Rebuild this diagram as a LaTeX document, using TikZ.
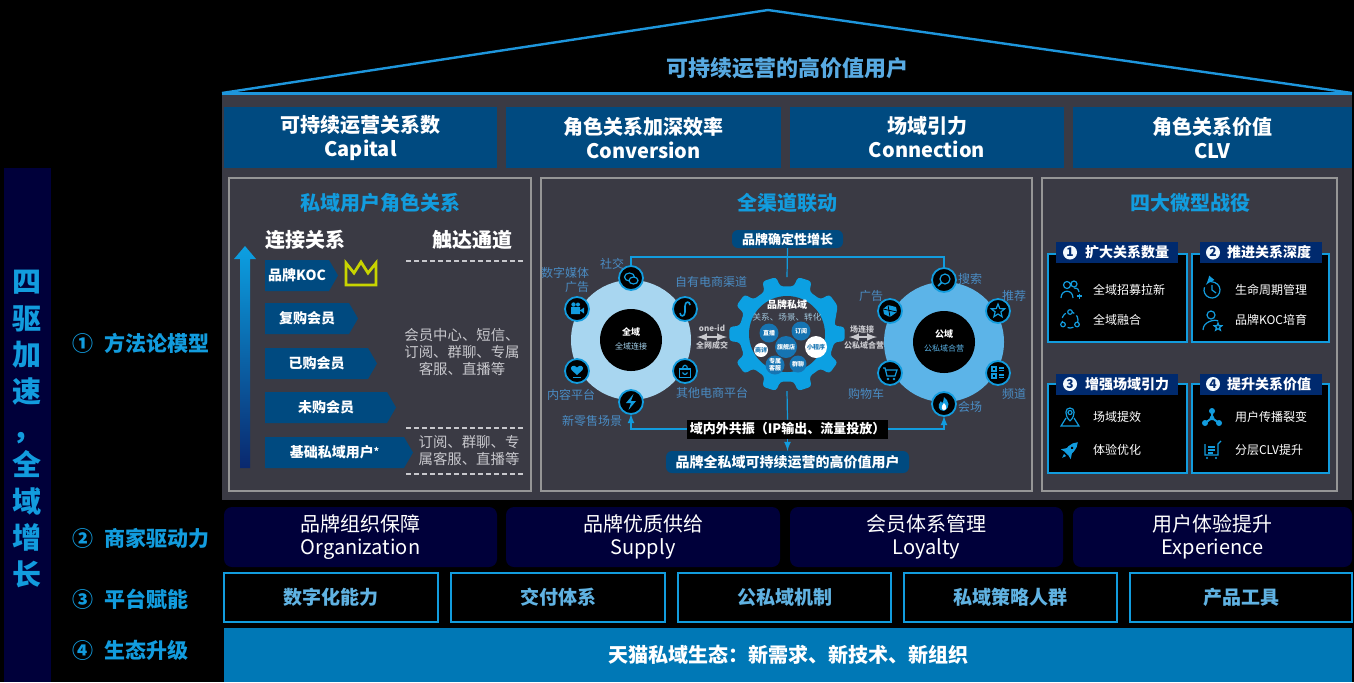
\documentclass[tikz,border=0pt]{standalone}
\usepackage{fontspec}
\setmainfont{Noto Sans CJK SC}
\usetikzlibrary{arrows}
\tikzset{>=latex}

\definecolor{band}{RGB}{58,58,68}
\definecolor{hdrblue}{RGB}{0,74,128}
\definecolor{navy}{RGB}{0,0,58}
\definecolor{accent}{RGB}{18,156,222}
\definecolor{roofblue}{RGB}{30,150,220}
\definecolor{rooftext}{RGB}{88,170,226}
\definecolor{ecobar}{RGB}{0,120,182}
\definecolor{rowtext}{RGB}{96,178,226}
\definecolor{frame}{RGB}{150,150,150}
\definecolor{softgray}{RGB}{200,200,205}
\definecolor{lblblue}{RGB}{74,140,196}
\definecolor{paleblue}{RGB}{168,214,240}
\definecolor{midblue}{RGB}{92,180,232}
\definecolor{gearblue}{RGB}{12,160,226}
\definecolor{dotblue}{RGB}{22,116,178}
\definecolor{tabnavy}{RGB}{0,42,110}
\definecolor{crown}{RGB}{200,212,0}
\definecolor{arrowbot}{RGB}{10,40,110}

\begin{document}
\begin{tikzpicture}[x=0.5pt,y=-0.5pt]
  \tikzset{
    every node/.style={inner sep=0pt, outer sep=0pt},
    hbox/.style={fill=hdrblue, text=white, align=center, minimum height=30.5pt,
      font=\fontsize{10pt}{12pt}\selectfont\bfseries},
    drv/.style={fill=navy, rounded corners=4pt, text=white, align=center,
      minimum height=30pt, font=\fontsize{10pt}{11.5pt}\selectfont},
    plat/.style={draw=accent, line width=1pt, fill=black, text=rowtext,
      minimum height=24.5pt, font=\fontsize{9.5pt}{9.5pt}\selectfont\bfseries},
    lvl/.style={anchor=west, text=accent, font=\fontsize{10.5pt}{10.5pt}\selectfont\bfseries},
    ptitle/.style={text=accent, font=\fontsize{10pt}{10pt}\selectfont\bfseries},
    colhead/.style={text=white, font=\fontsize{10pt}{10pt}\selectfont\bfseries},
    chev/.style={text=white, font=\fontsize{7pt}{7pt}\selectfont\bfseries},
    note/.style={text=softgray, align=center, font=\fontsize{7.2pt}{8.5pt}\selectfont},
    lbl/.style={text=lblblue, font=\fontsize{6pt}{7pt}\selectfont},
    ico/.style={circle, draw=accent, line width=0.9pt, fill=black, minimum size=12pt},
    dot/.style={circle, fill=dotblue, text=white, align=center, font=\fontsize{3pt}{3.4pt}\selectfont\bfseries},
    wdot/.style={circle, fill=white, text=dotblue, font=\fontsize{3pt}{3pt}\selectfont\bfseries},
    tiny/.style={text=softgray, font=\fontsize{4pt}{4pt}\selectfont\bfseries},
    link/.style={accent, line width=0.6pt},
    tab/.style={fill=tabnavy, minimum width=61pt, minimum height=10.5pt},
    num/.style={circle, fill=white!85!paleblue, text=tabnavy, minimum size=7pt,
      font=\fontsize{6pt}{6pt}\selectfont\bfseries},
    tabtext/.style={anchor=west, text=white, font=\fontsize{7pt}{7pt}\selectfont\bfseries},
    item/.style={anchor=west, text=white, font=\fontsize{6pt}{6pt}\selectfont},
    glyph/.style={accent, line width=0.6pt}
  }
  \useasboundingbox (0,0) rectangle (1354,682);
  \fill[black] (0,0) rectangle (1354,682);

  % roof
  \draw[roofblue, line width=1.2pt] (222,93) -- (768,10) -- (1352,93);
  \draw[roofblue, line width=1.5pt] (222,93) -- (1352,93);
  \node[text=rooftext, font=\fontsize{11pt}{11pt}\selectfont\bfseries] (roof) at (787,68) {可持续运营的高价值用户};
  \fill[band] (222,95) rectangle (1352,500);

  % left column
  \fill[navy] (4,168) rectangle (51,682);
  \node[text=accent, align=center, font=\fontsize{14.5pt}{18.3pt}\selectfont\bfseries] (slogan) at (27,429)
    {四\\驱\\加\\速\\，\\全\\域\\增\\长};
  \node[lvl] (lv1) at (72,343) {①\hspace{6pt}方法论模型};
  \node[lvl] (lv2) at (72,538) {②\hspace{6pt}商家驱动力};
  \node[lvl] (lv3) at (72,599) {③\hspace{6pt}平台赋能};
  \node[lvl] (lv4) at (72,650) {④\hspace{6pt}生态升级};

  % top row
  \node[hbox, minimum width=136.5pt] (cap) at (360.5,137.5) {可持续运营关系数\\Capital};
  \node[hbox, minimum width=137.5pt] (conv) at (643.5,137.5) {角色关系加深效率\\Conversion};
  \node[hbox, minimum width=137pt] (conn) at (927,137.5) {场域引力\\Connection};
  \node[hbox, minimum width=139.5pt] (clv) at (1212.5,137.5) {角色关系价值\\CLV};

  \draw[frame, line width=1pt] (229,178) rectangle (531,491);
  \draw[frame, line width=1pt] (541,178) rectangle (1032,491);
  \draw[frame, line width=1pt] (1042,178) rectangle (1337,491);

  % ---- roles ----
  \node[ptitle] (t1) at (380,203) {私域用户角色关系};
  \node[colhead] (ljgx) at (305,240) {连接关系};
  \node[colhead] (ddtd) at (472,240) {触达通道};
  \shade[top color=gearblue, bottom color=arrowbot] (240,468) -- (240,259) -- (234,259) -- (245,246)
    -- (256,259) -- (250,259) -- (250,468) -- cycle;
  \foreach \yt/\xr/\lab/\nm in {260/329/品牌KOC/koc, 303/349/复购会员/fg, 348/368/已购会员/yg,
      392/387/未购会员/wg, 437/404/{基础私域用户\raisebox{1pt}{\fontsize{5pt}{5pt}\selectfont *}}/jc} {
    \fill[hdrblue] (265,\yt) -- (\xr,\yt) -- ({\xr+9},{\yt+15.5}) -- (\xr,{\yt+31}) -- (265,{\yt+31}) -- cycle;
    \node[chev] (\nm) at ({(265+\xr)/2},{\yt+15.5}) {\lab};
  }
  \draw[crown, line width=1.4pt] (346,285) -- (346,263) -- (354,273) -- (361,262) -- (368,273)
    -- (376,263) -- (376,285) -- cycle;
  \draw[softgray, dash pattern=on 2.5pt off 1.5pt, line width=0.6pt]
    (406,261) -- (523,261) (406,428) -- (523,428) (406,474) -- (523,474);
  \node[note] (ch1) at (462,352) {会员中心、短信、\\订阅、群聊、专属\\客服、直播等};
  \node[note] (ch2) at (469,451) {订阅、群聊、专\\属客服、直播等};

  % ---- channels ----
  \node[ptitle] (t2) at (787,203) {全渠道联动};
  \coordinate (lc) at (631,340);
  \coordinate (rc) at (944,342);
  \coordinate (gc) at (787,334);
  \fill[paleblue] (lc) circle (60);
  \fill[black] (lc) circle (31);
  \fill[midblue] (rc) circle (60);
  \fill[black] (rc) circle (31);
  \fill[gearblue, rounded corners=1.5pt, shift={(gc)}] (-10:48)
    \foreach \a in {0,36,...,288}{ -- (\a-7:58) -- (\a+7:58) -- (\a+10:48) -- (\a+26:48)}
    -- (317:58) -- (331:58) -- cycle;
  \fill[band] (gc) circle (38);

  \node[text=white, font=\fontsize{4.5pt}{4.5pt}\selectfont\bfseries] (qy) at (631,332) {全域};
  \node[text=paleblue, font=\fontsize{4pt}{4pt}\selectfont] (qylj) at (631,346) {全域连接};
  \node[text=white, font=\fontsize{4.5pt}{4.5pt}\selectfont\bfseries] (gy) at (944,334) {公域};
  \node[text=midblue, font=\fontsize{4pt}{4pt}\selectfont] (gyhy) at (944,348) {公私域合营};
  \node[text=white, font=\fontsize{5pt}{5pt}\selectfont\bfseries] (ppsy) at (787,305) {品牌私域};
  \node[text=paleblue!80!gray, font=\fontsize{4.3pt}{4.3pt}\selectfont] (gxcj) at (787,317) {关系、场景、转化};

  \node[dot, minimum size=11pt] (qjd) at (786,347) {旗舰店};
  \node[dot, minimum size=9.5pt] (zb) at (769,333) {直播};
  \node[dot, minimum size=9.5pt] (dy) at (801,331) {订阅};
  \node[wdot, minimum size=7pt] (sx) at (761,350) {商详};
  \node[wdot, minimum size=11pt] (xcx) at (816,347) {小程序};
  \node[dot, minimum size=9.5pt] (zskf) at (775,365) {专属\\客服};
  \node[dot, minimum size=8.5pt] (ql) at (798,364) {群聊};

  \node[ico] (sj) at (631,278) {};
  \node[ico] (sz) at (577,309) {};
  \node[ico] (zy) at (685,309) {};
  \node[ico] (nr) at (577,371) {};
  \node[ico] (qt) at (685,371) {};
  \node[ico] (xl) at (631,402) {};
  \node[ico] (ss) at (944,280) {};
  \node[ico] (tj) at (998,311) {};
  \node[ico] (gg) at (890,311) {};
  \node[ico] (gw) at (890,373) {};
  \node[ico] (pd) at (998,373) {};
  \node[ico] (hc) at (944,404) {};

  \begin{scope}[shift={(sj)}]
    \draw[glyph] (-1.5,-1) ellipse (5 and 4);
    \draw[glyph, fill=black] (2.5,2.5) ellipse (4.5 and 3.5);
  \end{scope}
  \begin{scope}[shift={(sz)}]
    \fill[accent] (-6,-2) rectangle (3,5) (3,1.5) -- (7,-1.5) -- (7,4.5) -- cycle;
    \fill[accent] (-3.5,-4.5) circle (2.2) (1,-4.5) circle (2);
  \end{scope}
  \begin{scope}[shift={(zy)}]
    \draw[glyph, line width=0.8pt] (-5,4) .. controls (-5,8) and (0,8) .. (0,3) -- (0,-3)
      .. controls (0,-8) and (5,-8) .. (5,-4);
  \end{scope}
  \begin{scope}[shift={(nr)}]
    \fill[accent] (0,4) -- (-5.5,-1) .. controls (-8,-4) and (-3,-7.5) .. (0,-3.5)
      .. controls (3,-7.5) and (8,-4) .. (5.5,-1) -- cycle;
    \draw[glyph] (-4,6.5) -- (4,6.5);
  \end{scope}
  \begin{scope}[shift={(qt)}]
    \draw[glyph] (-5.5,-2) rectangle (5.5,6.5);
    \draw[glyph] (-2.5,-2) .. controls (-2.5,-7) and (2.5,-7) .. (2.5,-2);
    \draw[glyph] (-2.5,1.5) .. controls (-1,4) and (1,4) .. (2.5,1.5);
  \end{scope}
  \begin{scope}[shift={(xl)}]
    \fill[accent] (2.5,-8) -- (-5,1) -- (0,1) -- (-2.5,8) -- (5,-1) -- (0,-1) -- cycle;
  \end{scope}
  \begin{scope}[shift={(ss)}]
    \draw[glyph] (1,-1) circle (5);
    \draw[glyph, line width=0.9pt] (-2.5,2.5) -- (-6,6);
  \end{scope}
  \begin{scope}[shift={(tj)}]
    \draw[glyph] (0,-7) -- (1.8,-2.4) -- (6.7,-2.2) -- (2.9,0.9) -- (4.1,5.7) -- (0,3) -- (-4.1,5.7)
      -- (-2.9,0.9) -- (-6.7,-2.2) -- (-1.8,-2.4) -- cycle;
  \end{scope}
  \begin{scope}[shift={(gg)}]
    \fill[accent] (-7,-2) -- (-2,-6) -- (6,-4) -- (7,1) -- (0,6) -- (-6,3) -- cycle;
    \draw[black, line width=0.4pt] (-2,-6) -- (0,6) (-7,-2) -- (7,1);
  \end{scope}
  \begin{scope}[shift={(gw)}]
    \draw[glyph] (-7,-5) -- (-5,-5) -- (-3,3) -- (5,3) -- (7,-3) -- (-4.5,-3);
    \fill[accent] (-2,6) circle (1.3) (4,6) circle (1.3);
  \end{scope}
  \begin{scope}[shift={(pd)}]
    \draw[glyph] (-6,-6) rectangle (-2,-2) (-6,1) rectangle (-2,5) (1,-5) -- (6,-5) (1,-2.5) -- (6,-2.5)
      (1,2) -- (6,2) (1,4.5) -- (6,4.5);
  \end{scope}
  \begin{scope}[shift={(hc)}]
    \fill[accent] (0,7) .. controls (-6,7) and (-7,1) .. (-3,-3) .. controls (-2,0) and (-1,0) .. (0,-7)
      .. controls (5,-3) and (7,3) .. (0,7) -- cycle;
    \fill[white] (0,6) .. controls (-3,6) and (-3,2) .. (0,-1) .. controls (3,2) and (3,6) .. (0,6) -- cycle;
  \end{scope}

  \node[lbl] (lsj) at (612,264) {社交};
  \node[lbl, anchor=east, align=right] (lsz) at (589,280) {数字媒体\\广告};
  \node[lbl] (lzy) at (711,282) {自有电商渠道};
  \node[lbl] (lnr) at (571,395) {内容平台};
  \node[lbl] (lqt) at (712,393) {其他电商平台};
  \node[lbl] (lxl) at (592,421) {新零售场景};
  \node[lbl] (lss) at (970,279) {搜索};
  \node[lbl] (ltj) at (1014,296) {推荐};
  \node[lbl] (lgg) at (871,296) {广告};
  \node[lbl] (lgw) at (866,394) {购物车};
  \node[lbl] (lpd) at (1014,394) {频道};
  \node[lbl] (lhc) at (970,407) {会场};

  \node[tiny] (oneid) at (712,328) {one-id};
  \node[tiny] (qwcj) at (712,345) {全网成交};
  \coordinate (oa1) at (697,337);
  \coordinate (oa2) at (727,337);
  \draw[<->, softgray, line width=0.7pt] (oa1) -- (oa2);
  \node[tiny] (clj) at (862,329) {场连接};
  \node[tiny] (gsy) at (864,345) {公私域合营};
  \coordinate (ob1) at (849,337);
  \coordinate (ob2) at (877,337);
  \draw[<->, softgray, line width=0.7pt] (ob1) -- (ob2);

  \node[fill=hdrblue, rounded corners=3pt, minimum width=55.5pt, minimum height=9pt, text=white,
    font=\fontsize{6.5pt}{6.5pt}\selectfont\bfseries] (zd) at (787.5,239) {品牌确定性增长};
  \node[fill=black, minimum width=100.5pt, minimum height=9.5pt, text=white,
    font=\fontsize{6.5pt}{6.5pt}\selectfont\bfseries] (gz) at (787.5,429) {域内外共振（IP输出、流量投放）};
  \node[fill=hdrblue, rounded corners=3pt, minimum width=121.5pt, minimum height=11pt, text=white,
    font=\fontsize{7pt}{7pt}\selectfont\bfseries] (qsy) at (787.5,462) {品牌全私域可持续运营的高价值用户};

  \coordinate (tl) at (787,257);
  \coordinate (gtop) at (787,277);
  \coordinate (gbot) at (787,391);
  \draw[link] (zd.south) -- (gtop);
  \draw[link] (sj.north) |- (tl) -| (ss.north);
  \draw[link, <-] (xl.south) |- (gz.west);
  \draw[link, ->] (gz.east) -| (hc.south);
  \draw[link] (gbot) -- (gz.north);
  \draw[link, ->] (gz.south) -- (qsy.north);

  % ---- campaigns ----
  \node[ptitle] (t3) at (1190,203) {四大微型战役};
  \draw[accent, line width=1pt, fill=black] (1048,254) rectangle (1187,342);
  \draw[accent, line width=1pt, fill=black] (1192,254) rectangle (1329,342);
  \draw[accent, line width=1pt, fill=black] (1048,384) rectangle (1187,473);
  \draw[accent, line width=1pt, fill=black] (1192,384) rectangle (1329,473);
  \node[tab] (tab1) at (1117,252.5) {};
  \node[tab] (tab2) at (1260.5,252.5) {};
  \node[tab] (tab3) at (1117,384) {};
  \node[tab] (tab4) at (1260.5,384) {};
  \node[num] (n1) at (1070,252.5) {1};
  \node[num] (n2) at (1213,252.5) {2};
  \node[num] (n3) at (1070,384) {3};
  \node[num] (n4) at (1213,384) {4};
  \node[tabtext] (w1) at (1085,252.5) {扩大关系数量};
  \node[tabtext] (w2) at (1227,252.5) {推进关系深度};
  \node[tabtext] (w3) at (1085,384) {增强场域引力};
  \node[tabtext] (w4) at (1227,384) {提升关系价值};
  \node[item] (a1) at (1093,290) {全域招募拉新};
  \node[item] (a2) at (1093,320) {全域融合};
  \node[item] (b1) at (1235,290) {生命周期管理};
  \node[item] (b2) at (1235,320) {品牌KOC培育};
  \node[item] (c1) at (1093,417) {场域提效};
  \node[item] (c2) at (1093,450) {体验优化};
  \node[item] (d1) at (1235,417) {用户传播裂变};
  \node[item] (d2) at (1235,450) {分层CLV提升};

  \begin{scope}[shift={(1070,290)}]
    \draw[glyph] (-3,-5) circle (3.5) (4,-6) circle (3);
    \draw[glyph] (-9,8) .. controls (-9,-1) and (3,-1) .. (3,8);
    \draw[glyph] (4,-2) .. controls (8,-2) and (9,0) .. (9,2);
    \draw[glyph] (7,6) -- (12,6) (9.5,3.5) -- (9.5,8.5);
  \end{scope}
  \begin{scope}[shift={(1070,320)}]
    \draw[glyph, dash pattern=on 3pt off 1.5pt] (0,0) circle (8);
    \draw[glyph, fill=black] (0,-8) circle (2.3) (-7,4.5) circle (2.3) (7,4.5) circle (2.3);
  \end{scope}
  \begin{scope}[shift={(1212,290)}]
    \draw[glyph, ->] (200:8) arc (200:-140:8);
    \draw[glyph] (0,-5) -- (0,0) -- (4,3);
  \end{scope}
  \begin{scope}[shift={(1212,320)}]
    \draw[glyph] (-1,-5) circle (4);
    \draw[glyph] (-9,10) .. controls (-9,1) and (4,-1) .. (6,1);
    \draw[glyph, shift={(6,7)}] (0,-4) -- (1,-1.3) -- (3.8,-1.2) -- (1.6,0.5) -- (2.4,3.2) -- (0,1.7)
      -- (-2.4,3.2) -- (-1.6,0.5) -- (-3.8,-1.2) -- (-1,-1.3) -- cycle;
  \end{scope}
  \begin{scope}[shift={(1070,417)}]
    \draw[glyph] (0,4) .. controls (-6,-2) and (-5,-9) .. (0,-9) .. controls (5,-9) and (6,-2) .. (0,4);
    \draw[glyph] (0,-4.5) circle (2);
    \draw[glyph] (-4,1) -- (-9,9) -- (9,9) -- (4,1);
  \end{scope}
  \begin{scope}[shift={(1070,450)}]
    \fill[accent, rotate=-45] (0,-11) .. controls (5,-6) and (4,3) .. (3,5) -- (-3,5)
      .. controls (-4,3) and (-5,-6) .. (0,-11) -- cycle;
    \fill[accent, rotate=-45] (-3,0) -- (-7,6) -- (-3,5) -- cycle (3,0) -- (7,6) -- (3,5) -- cycle;
    \fill[accent, rotate=-45] (-1.5,7) -- (0,11) -- (1.5,7) -- cycle;
    \fill[black, rotate=-45] (0,-3) circle (1.5);
  \end{scope}
  \begin{scope}[shift={(1212,417)}]
    \draw[accent, line width=1pt] (0,-6) -- (0,1) -- (-7,6) (0,1) -- (7,6);
    \fill[accent] (0,-6) circle (3) (0,1) circle (2.3) (-7,6) circle (3) (7,6) circle (3);
  \end{scope}
  \begin{scope}[shift={(1212,450)}]
    \draw[glyph] (-7,-6) -- (-7,5) -- (6,5) -- (6,-6) -- (9,-9);
    \draw[glyph] (-4,-3) -- (3,-3) (-4,0) -- (3,0) (-4,3) -- (1,3);
    \fill[accent] (-5,8) circle (1.2) (4,8) circle (1.2);
  \end{scope}

  % drivers
  \node[drv, minimum width=136.5pt] (org) at (360.5,537) {品牌组织保障\\Organization};
  \node[drv, minimum width=137pt] (sup) at (643,537) {品牌优质供给\\Supply};
  \node[drv, minimum width=136.5pt] (loy) at (926.5,537) {会员体系管理\\Loyalty};
  \node[drv, minimum width=139.5pt] (exp) at (1212.5,537) {用户体验提升\\Experience};

  % platform
  \node[plat, minimum width=107pt] (p1) at (331,597.5) {数字化能力};
  \node[plat, minimum width=107pt] (p2) at (558,597.5) {交付体系};
  \node[plat, minimum width=106.5pt] (p3) at (784.5,597.5) {公私域机制};
  \node[plat, minimum width=106.5pt] (p4) at (1010.5,597.5) {私域策略人群};
  \node[plat, minimum width=111pt] (p5) at (1241,597.5) {产品工具};

  \node[fill=ecobar, minimum width=564pt, minimum height=27pt, text=white,
    font=\fontsize{10pt}{10pt}\selectfont\bfseries] (eco) at (788,655) {天猫私域生态：新需求、新技术、新组织};
\end{tikzpicture}
\end{document}
